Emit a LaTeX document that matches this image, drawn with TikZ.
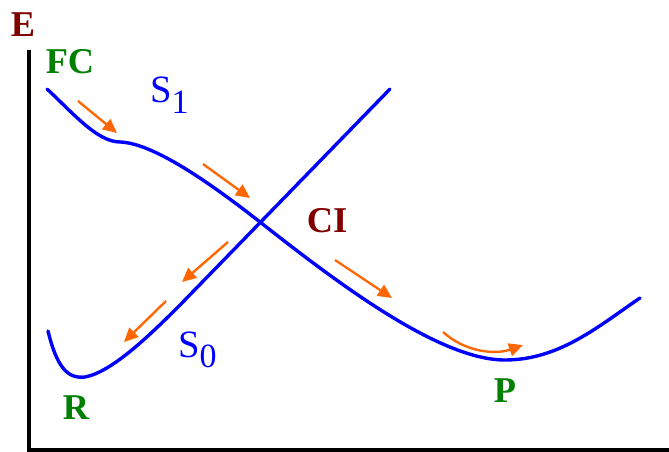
\documentclass[tikz,border=0pt]{standalone}
\usepackage{fontspec}
\setmainfont{Liberation Serif}
\usetikzlibrary{arrows.meta}
\definecolor{CurveBlue}{RGB}{0,0,255}
\definecolor{FlowOrange}{RGB}{255,102,0}
\definecolor{LabelRed}{RGB}{128,0,0}
\definecolor{LabelGreen}{RGB}{0,128,0}

\begin{document}
\begin{tikzpicture}[
        x=0.03cm, y=-0.03cm,
        axis/.style={line width=2.8pt, black},
        pes/.style={line width=2.9pt, CurveBlue, line cap=round},
        flow/.style={-{Triangle[length=12pt, width=11pt]}, line width=2pt, FlowOrange},
        pt/.style={font=\fontsize{31}{34}\selectfont\bfseries, text=LabelGreen, inner sep=0pt},
        ax/.style={font=\fontsize{31}{34}\selectfont\bfseries, text=LabelRed, inner sep=0pt},
        st/.style={font=\fontsize{33}{36}\selectfont, text=CurveBlue, inner sep=0pt, anchor=base west}
      ]
        \useasboundingbox (0,0) rectangle (669,452);

        % axes
        \coordinate (top) at (29,50);
        \coordinate (orig) at (29,450);
        \coordinate (right) at (669,450);
        \draw[axis] (top) -- (orig) -- (right);

        % potential energy surfaces
        \draw[pes] (47,89) .. controls (72,112) and (97,142) .. (120,142)
          .. controls (150,143) and (200,175) .. (260,222)
          .. controls (340,285) and (440,360) .. (505,360)
          .. controls (560,360) and (600,325) .. (640,298);
        \draw[pes] (48,331) .. controls (57,368) and (68,379) .. (85,377)
          .. controls (112,372) and (150,335) .. (180,305) -- (390,89);

        % labels
        \node[ax] (E) at (23,25) {E};
        \node[pt] (FC) at (70,62) {FC};
        \node[st] (S1) at (150,103) {S\raisebox{-9pt}{\fontsize{29}{30}\selectfont 1}};
        \node[ax] (CI) at (327,221) {CI};
        \node[st] (S0) at (178,357) {S\raisebox{-9pt}{\fontsize{29}{30}\selectfont 0}};
        \node[pt] (R) at (76,408) {R};
        \node[pt] (P) at (505,391) {P};

        % relaxation paths
        \coordinate (a1) at (78,101);  \coordinate (b1) at (117,133);
        \coordinate (a2) at (203,164); \coordinate (b2) at (250,198);
        \coordinate (a3) at (228,242); \coordinate (b3) at (182,282);
        \coordinate (a4) at (166,301); \coordinate (b4) at (124,342);
        \coordinate (a5) at (335,260); \coordinate (b5) at (392,298);
        \coordinate (a6) at (443,332); \coordinate (b6) at (523,345);
        \draw[flow] (a1) -- (b1);
        \draw[flow] (a2) -- (b2);
        \draw[flow] (a3) -- (b3);
        \draw[flow] (a4) -- (b4);
        \draw[flow] (a5) -- (b5);
        \draw[flow] (a6) .. controls (465,352) and (495,355) .. (b6);
      \end{tikzpicture}
\end{document}
